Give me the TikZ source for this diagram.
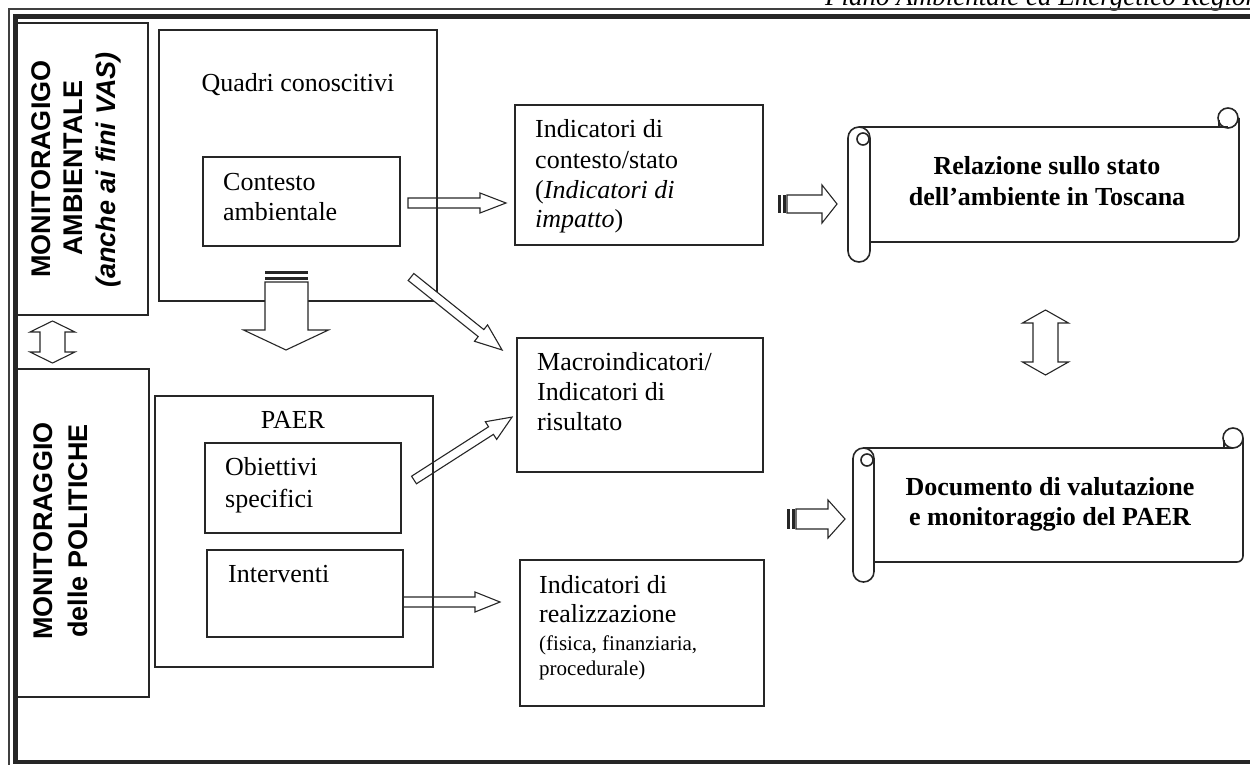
\documentclass[tikz,border=0pt]{standalone}
\usepackage{fontspec}
\setmainfont{Liberation Serif}
\newfontfamily\hsans{Liberation Sans}
\usetikzlibrary{fit}
\tikzset{
  box/.style={draw=black!85, line width=1.5pt, inner sep=0pt, outer sep=0pt},
  ser/.style={font=\fontsize{26}{30}\selectfont, inner sep=0pt, anchor=base west},
  sersm/.style={font=\fontsize{21}{24}\selectfont, inner sep=0pt, anchor=base west},
  scrt/.style={font=\fontsize{26}{30}\selectfont\bfseries, inner sep=0pt, anchor=base},
  vert/.style={font=\fontsize{27}{32}\selectfont\hsans\bfseries, inner sep=0pt, anchor=base, rotate=90},
  vertit/.style={vert, font=\fontsize{27}{32}\selectfont\hsans\bfseries\itshape},
  arrline/.style={draw=black!85, line width=1.1pt, line join=miter},
  scrl/.style={draw=black!85, line width=1.6pt},
}
\newcommand\blkarrow[7][]{%
  \begin{scope}[shift={#2}, rotate=#3]
    \draw[arrline,#1] (0,-#5) -- ({#4-#7},-#5) -- ({#4-#7},-#6) -- (#4,0) -- ({#4-#7},#6) -- ({#4-#7},#5) -- (0,#5) -- cycle;
  \end{scope}}
\newcommand\dblvarrow[6]{%
  \draw[arrline] (#1,#2) -- ({#1+#5},{#2+#6}) -- ({#1+#4},{#2+#6}) -- ({#1+#4},{#3-#6}) -- ({#1+#5},{#3-#6}) -- (#1,#3) -- ({#1-#5},{#3-#6}) -- ({#1-#4},{#3-#6}) -- ({#1-#4},{#2+#6}) -- ({#1-#5},{#2+#6}) -- cycle;}
\newcommand\strarrow[6]{%
  \fill[black!85] (#1,{#2-#4}) rectangle ({#1+2.5},{#2+#4});
  \fill[black!85] ({#1+4.5},{#2-#4}) rectangle ({#1+8},{#2+#4});
  \draw[arrline] ({#1+9},{#2-#4}) -- ({#3-#6},{#2-#4}) -- ({#3-#6},{#2-#5}) -- (#3,#2) -- ({#3-#6},{#2+#5}) -- ({#3-#6},{#2+#4}) -- ({#1+9},{#2+#4}) -- cycle;}
\begin{document}
\begin{tikzpicture}[x=1pt,y=-1pt]
\useasboundingbox (0,0) rectangle (1250,765);
\clip (0,0) rectangle (1250,765);

% header
\node[font=\fontsize{27}{30}\selectfont\itshape, inner sep=0pt, anchor=base west] (hdr) at (825,6) {Piano Ambientale ed Energetico Regionale};

% frame
\draw[line width=1.6pt, black!75] (9,800) -- (9,9) -- (1300,9);
\draw[line width=4.5pt, black!85] (1300,762) -- (15.5,762) -- (15.5,16.5) -- (1300,16.5);

% left boxes
\node[box, fit={(16,23) (148,315)}] (monamb) {};
\node[box, fit={(17,369) (149,697)}] (monpol) {};
\node[vert] (ma1) at (50,169) {MONITORAGIGO};
\node[vert] (ma2) at (82,168) {AMBIENTALE};
\node[vertit] (ma3) at (115,170) {(anche ai fini VAS)};
\node[vert] (mp1) at (52,531) {MONITORAGGIO};
\node[vert] (mp2) at (87,531) {delle POLITICHE};

% central boxes
\node[box, fit={(159,30) (437,301)}] (quadri) {};
\node[box, fit={(203,157) (400,246)}] (contesto) {};
\node[box, fit={(155,396) (433,667)}] (paer) {};
\node[box, fit={(205,443) (401,533)}] (obiettivi) {};
\node[box, fit={(207,550) (403,637)}] (interventi) {};
\node[box, fit={(515,105) (763,245)}] (indcont) {};
\node[box, fit={(517,338) (763,472)}] (macro) {};
\node[box, fit={(520,560) (764,706)}] (real) {};

\node[ser, anchor=base] (tq) at (298,92) {Quadri conoscitivi};
\node[ser] (tc1) at (223,190) {Contesto};
\node[ser] (tc2) at (223,220) {ambientale};
\node[ser, anchor=base] (tp) at (293,428) {PAER};
\node[ser] (to1) at (225,475) {Obiettivi};
\node[ser] (to2) at (225,507) {specifici};
\node[ser] (ti) at (228,582) {Interventi};
\node[ser] (tic1) at (535,138) {Indicatori di};
\node[ser] (tic2) at (535,168) {contesto/stato};
\node[ser] (tic3) at (535,198) {(\textit{Indicatori di}};
\node[ser] (tic4) at (535,227) {\textit{impatto})};
\node[ser] (tm1) at (537,370) {Macroindicatori/};
\node[ser] (tm2) at (537,400) {Indicatori di};
\node[ser] (tm3) at (537,430) {risultato};
\node[ser] (tr1) at (539,593) {Indicatori di};
\node[ser] (tr2) at (539,622) {realizzazione};
\node[sersm] (tr3) at (539,650) {(fisica, finanziaria,};
\node[sersm] (tr4) at (539,675) {procedurale)};

% scroll 1
\draw[scrl] (859,127) -- (1228,127);
\draw[scrl, rounded corners=6] (1239,118) -- (1239,242) -- (870,242);
\draw[scrl] (1228,118) circle (10);
\draw[scrl] (1219,120) -- (1219,127);
\draw[scrl, fill=white, rounded corners=10.9] (848,127) rectangle (870,262);
\draw[scrl] (863,139) circle (6);
\node[scrt] (s1a) at (1047,175) {Relazione sullo stato};
\node[scrt] (s1b) at (1047,205) {dell'ambiente in Toscana};

% scroll 2
\draw[scrl] (864,448) -- (1233,448);
\draw[scrl, rounded corners=6] (1243,438) -- (1243,562) -- (874,562);
\draw[scrl] (1233,438) circle (10);
\draw[scrl] (1224,440) -- (1224,448);
\draw[scrl, fill=white, rounded corners=10.4] (853,448) rectangle (874,582);
\draw[scrl] (867,460) circle (6);
\node[scrt] (s2a) at (1050,495) {Documento di valutazione};
\node[scrt] (s2b) at (1050,525) {e monitoraggio del PAER};

% arrows
\blkarrow{(408,203)}{0}{98}{5}{10}{26}
\blkarrow[fill=white]{(411,277)}{-38.7}{116.7}{4.5}{10.5}{27}
\blkarrow{(414,480)}{32.7}{116.5}{4.5}{10.5}{25}
\blkarrow{(403,602)}{0}{97}{5}{10}{25}
\strarrow{778}{204}{837}{9}{19}{15}
\strarrow{787}{519}{845}{10}{19}{17}
\dblvarrow{52.5}{321}{363}{12.5}{22.5}{11}
\dblvarrow{1045.5}{310}{375}{12.5}{23}{13}

% big down arrow
\fill[black!85] (265,270.5) rectangle (308,273.5);
\fill[black!85] (265,276.5) rectangle (308,279.5);
\draw[arrline, fill=white] (265,282) -- (308,282) -- (308,330) -- (328.5,330) -- (286,350) -- (243.5,330) -- (265,330) -- cycle;
\end{tikzpicture}
\end{document}
